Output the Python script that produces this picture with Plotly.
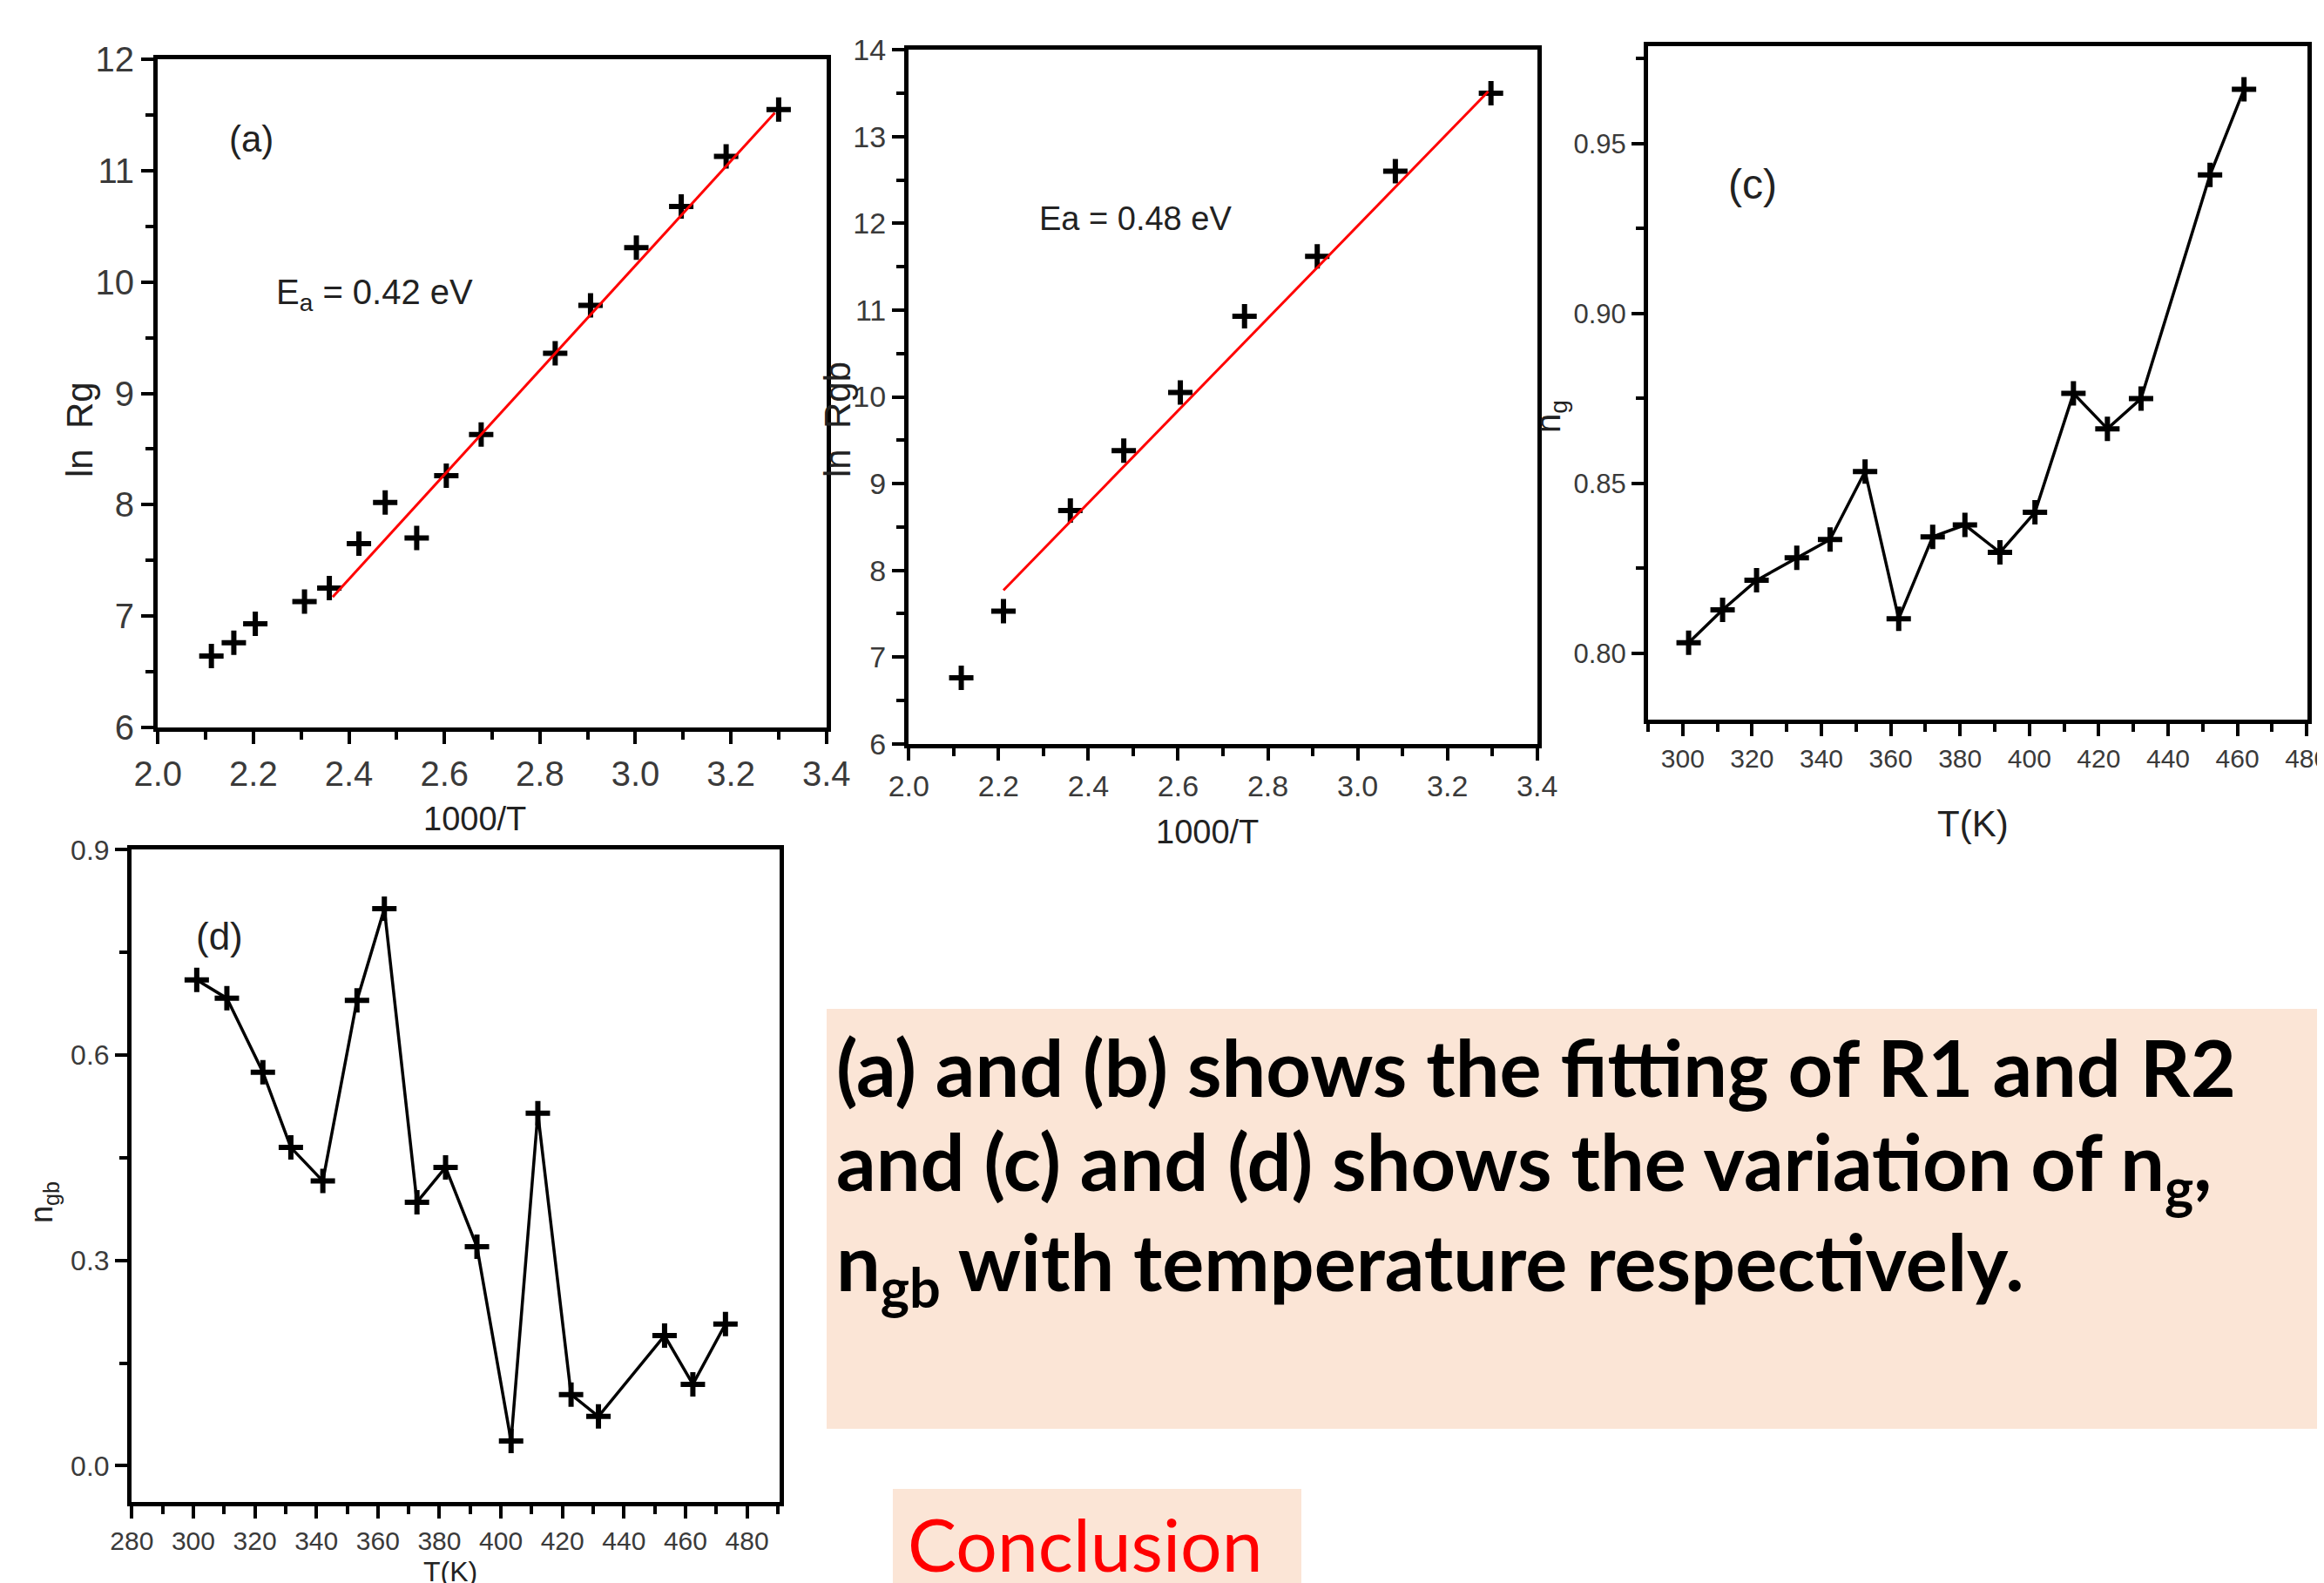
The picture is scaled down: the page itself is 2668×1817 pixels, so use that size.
import plotly.graph_objects as go

W, H = 2668, 1817

# ---------------- data ----------------
a_x = [2.112, 2.159, 2.204, 2.307, 2.359, 2.421, 2.476, 2.542, 2.604, 2.677, 2.832, 2.906, 3.002, 3.096, 3.190, 3.300]
a_y = [6.64, 6.76, 6.93, 7.13, 7.25, 7.65, 8.02, 7.70, 8.26, 8.63, 9.36, 9.79, 10.31, 10.68, 11.13, 11.55]
a_fit_x = [2.366, 3.292]
a_fit_y = [7.17, 11.52]

b_x = [2.117, 2.211, 2.360, 2.479, 2.605, 2.748, 2.910, 3.084, 3.297]
b_y = [6.76, 7.53, 8.69, 9.38, 10.05, 10.93, 11.62, 12.60, 13.50]
b_fit_x = [2.211, 3.291]
b_fit_y = [7.77, 13.52]

c_T = [301.7, 311.5, 321.3, 332.9, 342.5, 352.6, 362.3, 372.1, 381.4, 391.5, 401.6, 412.7, 422.5, 432.2, 452.1, 461.9]
c_n = [0.8031, 0.8128, 0.8215, 0.8281, 0.8335, 0.8535, 0.8102, 0.8343, 0.8378, 0.8297, 0.8415, 0.8765, 0.8661, 0.8750, 0.9408, 0.9660]

d_T = [301.1, 310.9, 322.6, 331.7, 342.1, 353.2, 362.1, 372.7, 382.0, 392.2, 403.3, 412.0, 422.8, 431.7, 453.2, 462.4, 473.0]
d_n = [0.710, 0.683, 0.575, 0.465, 0.416, 0.680, 0.814, 0.385, 0.436, 0.320, 0.036, 0.515, 0.104, 0.072, 0.190, 0.119, 0.207]

text_lines = [
    "(a) and (b) shows the fitting of R1 and R2",
    "and (c) and (d) shows the variation of n<sub>g</sub>,",
    "n<sub>gb</sub> with temperature respectively.",
]
conclusion = "Conclusion"


def px(x):
    return x / W


def py(y):
    return 1 - y / H


TICKFONT = "Liberation Sans, Arial, sans-serif"
marker = dict(symbol="cross-thin", size=20, color="black", line=dict(color="black", width=6))

fig = go.Figure()

# panel a
fig.add_trace(go.Scatter(x=a_x, y=a_y, mode="markers", marker=marker, xaxis="x", yaxis="y"))
fig.add_trace(go.Scatter(x=a_fit_x, y=a_fit_y, mode="lines", line=dict(color="#ff0000", width=3), xaxis="x", yaxis="y"))
# panel b
fig.add_trace(go.Scatter(x=b_x, y=b_y, mode="markers", marker=marker, xaxis="x2", yaxis="y2"))
fig.add_trace(go.Scatter(x=b_fit_x, y=b_fit_y, mode="lines", line=dict(color="#ff0000", width=3), xaxis="x2", yaxis="y2"))
# panel c
fig.add_trace(go.Scatter(x=c_T, y=c_n, mode="lines+markers", line=dict(color="black", width=3.5), marker=marker, xaxis="x3", yaxis="y3"))
# panel d
fig.add_trace(go.Scatter(x=d_T, y=d_n, mode="lines+markers", line=dict(color="black", width=3.5), marker=marker, xaxis="x4", yaxis="y4"))


def ax(domain, rng, dtick, tick0, mdtick, size, fmt=None, anchor=None):
    d = dict(domain=domain, range=rng, dtick=dtick, tick0=tick0, showline=True, mirror=True,
             linecolor="black", linewidth=5, ticks="outside", ticklen=14, tickwidth=4, tickcolor="black",
             showgrid=False, zeroline=False, anchor=anchor, automargin=False,
             tickfont=dict(family=TICKFONT, size=size, color="#3a3a3a"),
             minor=dict(dtick=mdtick, tick0=tick0, ticks="outside", ticklen=9, tickwidth=4, tickcolor="black", showgrid=False))
    if fmt:
        d["tickformat"] = fmt
    return d


fig.update_layout(
    width=W, height=H, margin=dict(l=0, r=0, t=0, b=0, autoexpand=False),
    paper_bgcolor="white", plot_bgcolor="white", showlegend=False,
    xaxis=ax([px(173), px(941)], [1.9995, 3.4005], 0.2, 2.0, 0.1, 40, ".1f", "y"),
    yaxis=ax([py(827), py(60)], [5.998, 12.002], 1, 6, 0.5, 40, None, "x"),
    xaxis2=ax([px(1035), px(1757)], [1.9995, 3.4005], 0.2, 2.0, 0.1, 34, ".1f", "y2"),
    yaxis2=ax([py(846), py(49)], [5.998, 14.002], 1, 6, 0.5, 34, None, "x2"),
    xaxis3=ax([px(1884), px(2641)], [290, 480.2], 20, 300, 10, 30, None, "y3"),
    yaxis3=ax([py(818), py(45)], [0.7805, 0.9787], 0.05, 0.80, 0.025, 31, ".2f", "x3"),
    xaxis4=ax([px(143), px(887)], [279.9, 490.6], 20, 280, 10, 30, None, "y4"),
    yaxis4=ax([py(1716), py(967)], [-0.053, 0.9005], 0.3, 0.0, 0.15, 32, ".1f", "x4"),
)

ann = []


def label(x, y, text, size, angle=0, xanchor="center", color="#222", family=TICKFONT, yanchor="middle"):
    ann.append(dict(x=px(x), y=py(y), xref="paper", yref="paper", text=text, showarrow=False,
                    xanchor=xanchor, yanchor=yanchor, textangle=angle,
                    font=dict(family=family, size=size, color=color)))


# axis titles
label(83, 485, "ln  Rg", 42, -90)
label(537, 932, "1000/T", 38)
label(953, 474, "ln  Rgb", 42, -90)
label(1378, 947, "1000/T", 38)
label(1772, 470, "n<sub>g</sub>", 40, -90)
label(2257, 937, "T(K)", 42)
label(42, 1372, "n<sub>gb</sub>", 36, -90)
label(509, 1816, "T(K)", 32, yanchor="bottom")

# in-panel labels
label(280, 152, "(a)", 42)
label(307, 330, "E<sub>a</sub> = 0.42 eV", 40, xanchor="left")
label(1295, 243, "Ea = 0.48 eV", 38)
label(2004, 204, "(c)", 48)
label(244, 1066, "(d)", 44)

# text box
fig.add_shape(type="rect", xref="paper", yref="paper", x0=px(941), x1=px(2668), y0=py(1632), y1=py(1150),
              fillcolor="#fbe5d6", line=dict(width=0), layer="below")
fig.add_shape(type="rect", xref="paper", yref="paper", x0=px(1017), x1=px(1486), y0=py(1817), y1=py(1701),
              fillcolor="#fbe5d6", line=dict(width=0), layer="below")

TS = 90
for i, (t, base) in enumerate(zip(text_lines, [1249, 1364, 1479])):
    label(950, base - 0.37 * TS, "<b>" + t + "</b>", TS, xanchor="left", color="black", family="Lato, sans-serif")

label(1032, 1816, conclusion, 84, xanchor="left", color="#ff0000", family="Lato, sans-serif", yanchor="bottom")

fig.update_layout(annotations=ann)
fig.write_html("out.html")
